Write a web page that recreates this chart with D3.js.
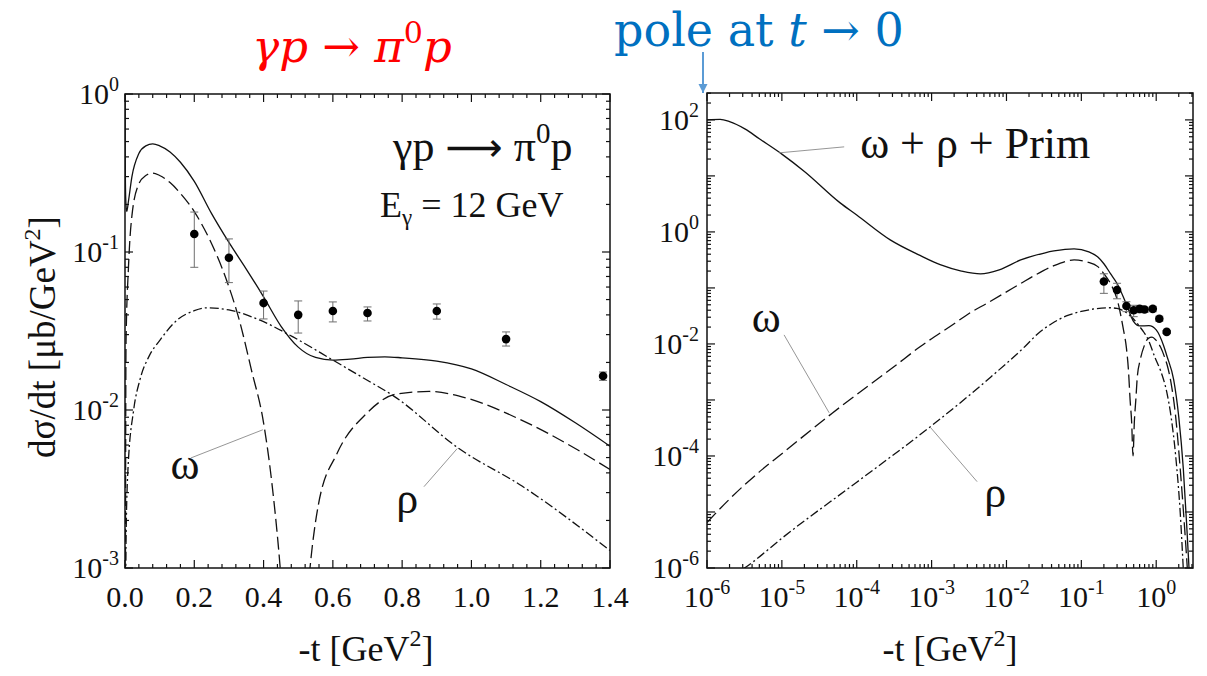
<!DOCTYPE html>
<html>
<head>
<meta charset="utf-8">
<script src="https://cdn.jsdelivr.net/npm/d3@7"></script>
<style>
  body { margin: 0; background: #fff; }
  svg text { font-family: "Liberation Serif", "Times New Roman", serif; fill: #111; }
</style>
</head>
<body>
<svg id="chart" width="1207" height="676"></svg>
<script>
// ---- measured cross sections, gamma p -> pi0 p at E_gamma = 12 GeV ----
const dataT  = [0.2, 0.3, 0.4, 0.5, 0.6, 0.7, 0.9, 1.1, 1.38];
const dataV  = [0.13, 0.092, 0.0475, 0.040, 0.0423, 0.0411, 0.0423, 0.0281, 0.0164];
const dataLo = [0.080, 0.064, 0.0377, 0.0307, 0.0361, 0.0366, 0.0376, 0.0254, 0.0154];
const dataHi = [0.179, 0.121, 0.0566, 0.049, 0.0483, 0.0449, 0.0469, 0.0312, 0.0174];

// ---- left panel (linear -t) model curves ----
const totLinT = [0, 0.0005, 0.002, 0.005, 0.01, 0.02, 0.04, 0.06, 0.08, 0.1, 0.13, 0.16, 0.2, 0.25, 0.3, 0.35, 0.4, 0.45, 0.5, 0.55, 0.6, 0.65, 0.7, 0.75, 0.8, 0.9, 1.0, 1.1, 1.2, 1.3, 1.4];
const totLinV = [100, 0.45, 0.22, 0.18, 0.21, 0.30, 0.42, 0.47, 0.483, 0.47, 0.43, 0.37, 0.28, 0.175, 0.115, 0.078, 0.052, 0.034, 0.025, 0.0215, 0.0207, 0.021, 0.0215, 0.0217, 0.0214, 0.0204, 0.0182, 0.0145, 0.0113, 0.0083, 0.0059];

const omgLinT = [0, 0.003, 0.01, 0.02, 0.04, 0.06, 0.08, 0.1, 0.13, 0.16, 0.2, 0.245, 0.293, 0.33, 0.365, 0.4, 0.425, 0.448, 0.47, 0.49, 0.51, 0.534, 0.558, 0.612, 0.697, 0.783, 0.879, 0.986, 1.146, 1.306, 1.4];
const omgLinV = [1e-5, 0.027, 0.08, 0.17, 0.27, 0.305, 0.316, 0.305, 0.275, 0.235, 0.18, 0.119, 0.0665, 0.037, 0.0179, 0.0083, 0.0033, 0.001, 2e-4, 1e-6, 2e-4, 0.001, 0.0025, 0.0053, 0.0095, 0.0126, 0.0131, 0.0119, 0.0086, 0.0056, 0.0042];

const rhoLinT = [0, 0.003, 0.0085, 0.025, 0.043, 0.07, 0.101, 0.15, 0.2, 0.236, 0.3, 0.39, 0.485, 0.6, 0.687, 0.777, 0.964, 1.146, 1.4];
const rhoLinV = [1e-5, 0.0015, 0.0042, 0.01, 0.0155, 0.022, 0.0277, 0.037, 0.0425, 0.0443, 0.043, 0.037, 0.029, 0.0207, 0.016, 0.0122, 0.0057, 0.0033, 0.00129];

// ---- right panel (log -t) model curves ----
const totLogT = [1e-6, 1.5e-6, 2e-6, 3.2e-6, 5e-6, 1e-5, 2e-5, 6e-5, 1e-4, 2.8e-4, 7e-4, 1.3e-3, 2.5e-3, 4.5e-3, 8e-3, 1.55e-2, 3.2e-2, 4.3e-2, 8e-2, 0.126, 0.166, 0.2, 0.245, 0.3, 0.4, 0.5, 0.6, 0.8, 1.0, 1.26, 1.4, 1.71, 2.0, 2.3, 2.57, 2.82];
const totLogV = [100, 102, 93, 69, 46, 24.5, 12, 3.3, 2.0, 0.72, 0.38, 0.26, 0.20, 0.178, 0.21, 0.316, 0.42, 0.457, 0.50, 0.44, 0.355, 0.27, 0.18, 0.12, 0.051, 0.025, 0.021, 0.0212, 0.0178, 0.0092, 0.0059, 0.0023, 5e-4, 6e-5, 5e-6, 5e-7];

const omgLogT = [1e-6, 2e-6, 5e-6, 1e-5, 4.7e-5, 3.2e-4, 7e-4, 2e-3, 3.16e-3, 5.6e-3, 1e-2, 1.55e-2, 2.5e-2, 4.3e-2, 6.3e-2, 8e-2, 0.12, 0.166, 0.2, 0.245, 0.3, 0.365, 0.4, 0.427, 0.448, 0.47, 0.49, 0.51, 0.534, 0.558, 0.612, 0.697, 0.783, 0.879, 0.986, 1.146, 1.306, 1.4, 1.58, 1.82, 2.09, 2.4, 2.69];
const omgLogV = [6.5e-6, 1.7e-5, 5.2e-5, 1.1e-4, 5.8e-4, 4.0e-3, 8.9e-3, 0.023, 0.035, 0.054, 0.085, 0.12, 0.174, 0.25, 0.30, 0.316, 0.29, 0.24, 0.18, 0.12, 0.063, 0.018, 0.0085, 0.0032, 0.001, 4e-4, 1e-4, 4e-4, 0.001, 0.0025, 0.0052, 0.0095, 0.0126, 0.0132, 0.0118, 0.0087, 0.0056, 0.0042, 0.002, 5e-4, 6e-5, 5e-6, 5e-7];

const rhoLogT = [2e-6, 4e-6, 1e-5, 1e-4, 1e-3, 3.16e-3, 5.6e-3, 1e-2, 1.78e-2, 2.6e-2, 4e-2, 6.3e-2, 0.1, 0.158, 0.236, 0.3, 0.39, 0.485, 0.6, 0.687, 0.777, 0.964, 1.146, 1.397, 1.58, 1.82, 2.09, 2.34];
const rhoLogV = [6.6e-7, 1.25e-6, 3.4e-6, 3.4e-5, 3.47e-4, 1.2e-3, 2.3e-3, 4.5e-3, 9.1e-3, 0.0151, 0.0229, 0.0316, 0.038, 0.0427, 0.0443, 0.043, 0.037, 0.029, 0.0205, 0.016, 0.0122, 0.0057, 0.0033, 0.0013, 5e-4, 1e-4, 1e-5, 6e-7];

// ---- tick values and labels ----
const linTicks   = [0, 0.2, 0.4, 0.6, 0.8, 1.0, 1.2, 1.4];
const linLabels  = ["0.0", "0.2", "0.4", "0.6", "0.8", "1.0", "1.2", "1.4"];
const leftYExp   = [0, -1, -2, -3];
const rightXExp  = [-6, -5, -4, -3, -2, -1, 0];
const rightYExp  = [2, 1, 0, -1, -2, -3, -4, -5, -6];
const rightYLab  = [2, 0, -2, -4, -6];

const svg = d3.select("#chart");
const ink = "#111";
const serif = "'Liberation Serif', 'Times New Roman', serif";

const L = { x0: 125, x1: 610, y0: 94, y1: 568 };
const R = { x0: 707, x1: 1193, y0: 93, y1: 568 };

const xL = d3.scaleLinear().domain([0, 1.4]).range([L.x0, L.x1]);
const yL = d3.scaleLog().domain([1e-3, 1]).range([L.y1, L.y0]);
const xR = d3.scaleLog().domain([1e-6, 3.1]).range([R.x0, R.x1]);
const yR = d3.scaleLog().domain([1e-6, Math.pow(10, 2.48)]).range([R.y1, R.y0]);

const defs = svg.append("defs");
function clip(id, P) {
  defs.append("clipPath").attr("id", id).append("rect")
    .attr("x", P.x0).attr("y", P.y0).attr("width", P.x1 - P.x0).attr("height", P.y1 - P.y0);
}
clip("clipL", L);
clip("clipR", R);

defs.append("marker").attr("id", "arrowHead").attr("viewBox", "0 0 10 10")
  .attr("refX", 10).attr("refY", 5).attr("markerWidth", 9).attr("markerHeight", 12)
  .attr("markerUnits", "userSpaceOnUse").attr("orient", "auto")
  .append("path").attr("d", "M0,0 L10,5 L0,10 Z").attr("fill", "#5b9bd5");

function txt(g, x, y, size) {
  return g.append("text").attr("x", x).attr("y", y).attr("font-size", size).style("font-family", serif);
}

// ---- ticks ----
function tickX(g, P, x, len) {
  g.append("line").attr("x1", x).attr("x2", x).attr("y1", P.y1).attr("y2", P.y1 - len);
  g.append("line").attr("x1", x).attr("x2", x).attr("y1", P.y0).attr("y2", P.y0 + len);
}
function tickY(g, P, y, len) {
  g.append("line").attr("y1", y).attr("y2", y).attr("x1", P.x0).attr("x2", P.x0 + len);
  g.append("line").attr("y1", y).attr("y2", y).attr("x1", P.x1).attr("x2", P.x1 - len);
}
function powLabel(g, x, y, exp, anchor) {
  const t = txt(g, x, y, 30).attr("text-anchor", anchor);
  t.append("tspan").text("10");
  t.append("tspan").attr("dy", -13).attr("font-size", 20).text(String(exp));
}

// Left panel
const gL = svg.append("g");
const tkL = gL.append("g").attr("stroke", ink).attr("stroke-width", 1.2);
linTicks.forEach(v => tickX(tkL, L, xL(v), 8));
for (let k = 0; k <= 35; k++) {
  if (k % 5 !== 0) tickX(tkL, L, xL(k * 0.04), 4);
}
leftYExp.forEach(e => {
  tickY(tkL, L, yL(Math.pow(10, e)), 8);
  if (e < 0) for (let m = 2; m <= 9; m++) tickY(tkL, L, yL(m * Math.pow(10, e)), 4);
});
gL.append("rect").attr("x", L.x0).attr("y", L.y0).attr("width", L.x1 - L.x0).attr("height", L.y1 - L.y0)
  .attr("fill", "none").attr("stroke", ink).attr("stroke-width", 1.5);

linTicks.forEach((v, i) => {
  txt(gL, xL(v), 607, 30).attr("text-anchor", "middle").text(linLabels[i]);
});
leftYExp.forEach(e => powLabel(gL, 119, yL(Math.pow(10, e)) + 10, e, "end"));

// Right panel
const gR = svg.append("g");
const tkR = gR.append("g").attr("stroke", ink).attr("stroke-width", 1.2);
rightXExp.forEach(e => {
  tickX(tkR, R, xR(Math.pow(10, e)), 8);
  for (let m = 2; m <= 9; m++) {
    const v = m * Math.pow(10, e);
    if (v <= 3.1) tickX(tkR, R, xR(v), 4);
  }
});
rightYExp.forEach(e => {
  tickY(tkR, R, yR(Math.pow(10, e)), 8);
  for (let m = 2; m <= 9; m++) {
    const v = m * Math.pow(10, e);
    if (v <= Math.pow(10, 2.48)) tickY(tkR, R, yR(v), 4);
  }
});
gR.append("rect").attr("x", R.x0).attr("y", R.y0).attr("width", R.x1 - R.x0).attr("height", R.y1 - R.y0)
  .attr("fill", "none").attr("stroke", ink).attr("stroke-width", 1.5);

rightXExp.forEach(e => powLabel(gR, xR(Math.pow(10, e)), 607, e, "middle"));
rightYLab.forEach(e => powLabel(gR, 699, yR(Math.pow(10, e)) + 10, e, "end"));

// ---- curves ----
function curve(g, xs, ys, T, V, dash, clipId) {
  const line = d3.line().x((d, i) => xs(T[i])).y((d, i) => ys(V[i])).curve(d3.curveMonotoneX);
  g.append("path").attr("d", line(T)).attr("fill", "none").attr("stroke", ink)
    .attr("stroke-width", 1.3).attr("stroke-dasharray", dash)
    .attr("clip-path", `url(#${clipId})`);
}
const dashOmega = "13,5";
const dashRho = "9,3,2,3";

curve(gL, xL, yL, totLinT, totLinV, null, "clipL");
curve(gL, xL, yL, omgLinT, omgLinV, dashOmega, "clipL");
curve(gL, xL, yL, rhoLinT, rhoLinV, dashRho, "clipL");

curve(gR, xR, yR, totLogT, totLogV, null, "clipR");
curve(gR, xR, yR, omgLogT, omgLogV, dashOmega, "clipR");
curve(gR, xR, yR, rhoLogT, rhoLogV, dashRho, "clipR");

// ---- data points with error bars ----
function points(g, xs, ys) {
  const eb = g.append("g").attr("stroke", "#6e6e6e").attr("stroke-width", 1);
  dataT.forEach((t, i) => {
    const x = xs(t);
    eb.append("line").attr("x1", x).attr("x2", x).attr("y1", ys(dataLo[i])).attr("y2", ys(dataHi[i]));
    eb.append("line").attr("x1", x - 4).attr("x2", x + 4).attr("y1", ys(dataLo[i])).attr("y2", ys(dataLo[i]));
    eb.append("line").attr("x1", x - 4).attr("x2", x + 4).attr("y1", ys(dataHi[i])).attr("y2", ys(dataHi[i]));
  });
  g.append("g").selectAll("circle").data(dataT).join("circle")
    .attr("cx", d => xs(d)).attr("cy", (d, i) => ys(dataV[i])).attr("r", 4.3).attr("fill", "#000");
}
points(gL, xL, yL);
points(gR, xR, yR);

// ---- annotations ----
function leader(g, xs, ys, a, b) {
  g.append("line").attr("x1", xs(a[0])).attr("y1", ys(a[1])).attr("x2", xs(b[0])).attr("y2", ys(b[1]))
    .attr("stroke", "#8a8a8a").attr("stroke-width", 0.9);
}
leader(gL, xL, yL, [0.19, 0.00497], [0.398, 0.0075]);
leader(gL, xL, yL, [0.863, 0.00327], [0.959, 0.0057]);
txt(gL, xL(0.173), yL(0.00366), 44).attr("text-anchor", "middle").text("ω");
txt(gL, xL(0.815), yL(0.00223), 44).attr("text-anchor", "middle").text("ρ");

const react = txt(gL, 393, 161, 44);
react.append("tspan").text("γp ");
react.append("tspan").style("font-family", "'DejaVu Sans', sans-serif").attr("font-size", 40).text("⟶");
react.append("tspan").text(" π");
react.append("tspan").attr("dy", -18).attr("font-size", 29).text("0");
react.append("tspan").attr("dy", 18).text("p");

const energy = txt(gL, 380, 217, 36);
energy.append("tspan").text("E");
energy.append("tspan").attr("dy", 8).attr("font-size", 23).text("γ");
energy.append("tspan").attr("dy", -8).text(" = 12 GeV");

leader(gR, xR, yR, [6.8e-5, 33], [9.2e-6, 25.8]);
leader(gR, xR, yR, [1.07e-5, 0.0145], [4.28e-5, 5.9e-4]);
leader(gR, xR, yR, [4.05e-3, 3.48e-5], [9.47e-4, 3.33e-4]);
txt(gR, xR(1.11e-4), yR(21), 44).text("ω + ρ + Prim");
txt(gR, xR(6.2e-6), yR(0.0164), 44).attr("text-anchor", "middle").text("ω");
txt(gR, xR(7.06e-3), yR(1.23e-5), 44).attr("text-anchor", "middle").text("ρ");

// axis titles
function gevLabel(x, y) {
  const t = txt(svg, x, y, 36).attr("text-anchor", "middle");
  t.append("tspan").text("-t [GeV");
  t.append("tspan").attr("dy", -15).attr("font-size", 24).text("2");
  t.append("tspan").attr("dy", 15).text("]");
}
gevLabel(366, 661);
gevLabel(950, 661);

const yt = svg.append("text").attr("transform", "translate(55,337) rotate(-90)")
  .attr("text-anchor", "middle").attr("font-size", 37).style("font-family", serif);
yt.append("tspan").text("dσ/dt [μb/GeV");
yt.append("tspan").attr("dy", -15).attr("font-size", 24).text("2");
yt.append("tspan").attr("dy", 15).text("]");

// headline over the left panel
const head = svg.append("text").attr("x", 352).attr("y", 62).attr("text-anchor", "middle")
  .style("font-family", "'DejaVu Serif', serif").attr("font-size", 45).style("fill", "#ff0000").style("font-style", "italic");
head.append("tspan").text("γp ");
head.append("tspan").style("font-style", "normal").text("→");
head.append("tspan").text(" π");
head.append("tspan").attr("dy", -19).attr("font-size", 30).style("font-style", "normal").text("0");
head.append("tspan").attr("dy", 19).text("p");

// pole note over the right panel
const pole = svg.append("text").attr("x", 614).attr("y", 46)
  .style("font-family", "'DejaVu Serif', serif").attr("font-size", 46).style("fill", "#0070c0");
pole.append("tspan").text("pole at ");
pole.append("tspan").style("font-style", "italic").text("t");
pole.append("tspan").text(" → 0");

svg.append("line").attr("x1", 703).attr("y1", 52).attr("x2", 703).attr("y2", 93)
  .attr("stroke", "#5b9bd5").attr("stroke-width", 2).attr("marker-end", "url(#arrowHead)");
</script>
</body>
</html>
